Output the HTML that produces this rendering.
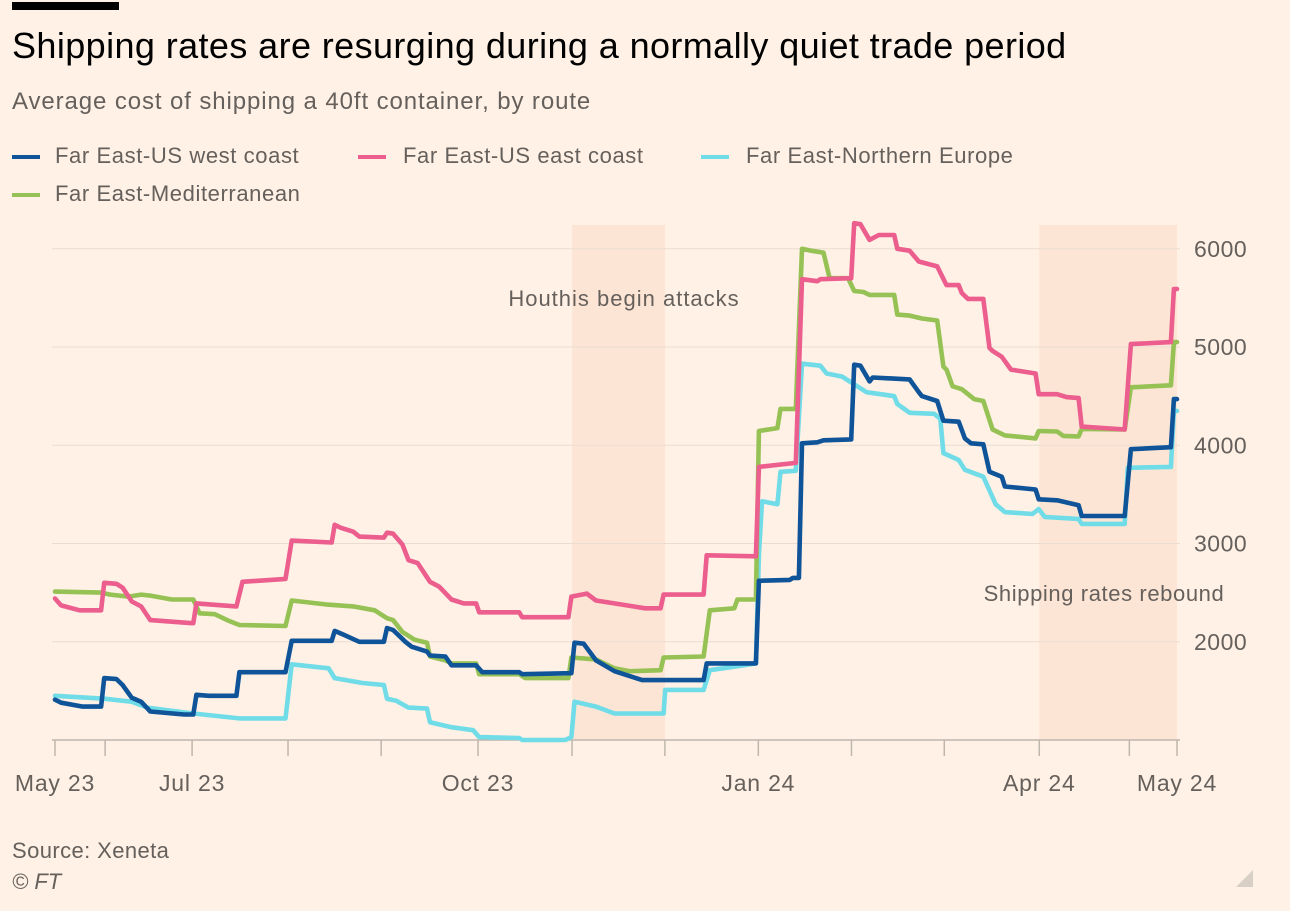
<!DOCTYPE html>
<html><head><meta charset="utf-8"><style>
html,body{margin:0;padding:0;background:#fff1e5;}
body{width:1290px;height:911px;position:relative;overflow:hidden;font-family:"Liberation Sans",sans-serif;}
.t{position:absolute;white-space:nowrap;}
</style></head><body>
<div style="position:absolute;left:12px;top:2px;width:107px;height:8px;background:#000"></div>
<div class="t" style="left:12px;top:25px;font-size:36px;color:#000;letter-spacing:0.4px">Shipping rates are resurging during a normally quiet trade period</div>
<div class="t" style="left:12px;top:88px;font-size:24px;color:#66605c;letter-spacing:0.9px">Average cost of shipping a 40ft container, by route</div>
<div>
<div class="t" style="left:12px;top:143px;font-size:22px;color:#66605c;letter-spacing:0.6px"><span style="display:inline-block;width:28px;height:4px;background:#0f5499;vertical-align:middle;margin-right:15px"></span>Far East-US west coast</div>
<div class="t" style="left:358px;top:143px;font-size:22px;color:#66605c;letter-spacing:0.6px"><span style="display:inline-block;width:28px;height:4px;background:#eb5e8d;vertical-align:middle;margin-right:17px"></span>Far East-US east coast</div>
<div class="t" style="left:701px;top:143px;font-size:22px;color:#66605c;letter-spacing:0.6px"><span style="display:inline-block;width:28px;height:4px;background:#70dce8;vertical-align:middle;margin-right:17px"></span>Far East-Northern Europe</div>
<div class="t" style="left:12px;top:181px;font-size:22px;color:#66605c;letter-spacing:0.6px"><span style="display:inline-block;width:28px;height:4px;background:#96c255;vertical-align:middle;margin-right:15px"></span>Far East-Mediterranean</div>
</div>
<svg id="chart" width="1290" height="911" style="position:absolute;left:0;top:0" xmlns="http://www.w3.org/2000/svg"></svg>
<div class="t" style="left:12px;top:838px;font-size:22px;color:#66605c;letter-spacing:0.4px">Source: Xeneta</div>
<div class="t" style="left:12px;top:869px;font-size:22px;color:#66605c;font-style:italic">© FT</div>
<div style="position:absolute;left:1236px;top:870px;width:0;height:0;border-left:17px solid transparent;border-bottom:17px solid #d8cfc6"></div>
<script>
const yTicks=[2000,3000,4000,5000,6000];
const xTickDays=[0,16.3,44.6,75.8,106.1,137.6,168.2,198.4,228.8,259.1,289.3,320.2,349.5,365];
const xLabelDays=[0,44.6,137.6,228.8,320.2,365];
const xLabels=["May 23","Jul 23","Oct 23","Jan 24","Apr 24","May 24"];
const shadeStarts=[168.2,320.2];
const shadeEnds=[198.4,365];
const westDays=[0,2,9,15,16,20,22,25,28,31,42,45,46,50,59,60,75,77,90,91,94,99,107,108,110,114,116,121,122,127,129,137,139,151,152,168,169,172,176,182,191,211,212,228,229,239,240,242,243,248,250,259,260,262,265,266,278,281,282,287,289,294,296,298,302,304,308,309,319,320,326,333,334,348,350,363,364,365];
const westVals=[1410,1380,1340,1340,1630,1620,1560,1430,1390,1290,1260,1260,1460,1450,1450,1690,1690,2010,2010,2110,2070,2000,2000,2140,2120,2000,1950,1900,1860,1850,1760,1760,1690,1690,1670,1680,1990,1980,1810,1700,1610,1610,1780,1780,2620,2630,2650,2650,4020,4030,4050,4060,4820,4810,4650,4690,4670,4540,4500,4450,4250,4240,4070,4020,4010,3730,3680,3580,3550,3450,3440,3390,3280,3280,3960,3980,4470,4470];
const eastDays=[0,2,8,15,16,20,22,25,28,31,44,45,46,59,61,75,77,90,91,93,97,99,107,108,110,113,115,118,122,125,129,133,137,138,151,152,167,168,173,176,184,192,197,198,211,212,228,229,241,243,248,249,259,260,262,265,268,273,274,278,281,287,290,294,295,297,302,304,305,308,311,319,320,326,329,333,334,348,350,363,364,365];
const eastVals=[2440,2370,2320,2320,2600,2590,2550,2410,2360,2220,2190,2190,2390,2360,2610,2640,3030,3010,3190,3160,3120,3070,3060,3110,3100,2990,2830,2800,2610,2560,2430,2390,2390,2300,2300,2250,2250,2460,2490,2420,2380,2340,2340,2480,2480,2880,2870,3780,3820,5690,5670,5690,5700,6260,6250,6090,6140,6140,6000,5980,5870,5820,5630,5630,5550,5490,5490,4990,4960,4900,4770,4730,4520,4520,4490,4480,4190,4160,5030,5050,5590,5590];
const euDays=[0,16,25,30,45,60,75,77,89,91,100,107,108,111,115,121,122,129,136,138,151,152,166,168,169,176,182,198,198.5,211,213,224,228,229,230,235,236,241,243,249,251,256,261,264,273,274,278,286,288,289,294,296,302,304,306,309,318,320,322,333,334,348,349,363,364,365];
const euVals=[1450,1420,1390,1330,1270,1220,1220,1770,1730,1630,1580,1560,1420,1400,1330,1320,1180,1130,1100,1030,1020,1000,1000,1030,1390,1340,1270,1270,1510,1510,1710,1760,1780,2880,3430,3400,3730,3740,4830,4810,4730,4700,4600,4540,4500,4420,4330,4320,4270,3920,3850,3750,3680,3540,3400,3320,3300,3350,3270,3250,3200,3200,3770,3780,4350,4350];
const medDays=[0,15,18,24,28,31,38,45,47,52,56,60,75,77,88,97,104,108,110,113,117,121,122,127,129,137,138,151,153,167,168,176,182,187,197,198,211,213,221,222,228,229,235,236,241,243,246,250,252,258,260,263,265,273,274,278,282,287,289,290,292,295,299,302,305,309,319,320,326,328,333,334,348,350,363,364,365];
const medVals=[2510,2500,2480,2460,2480,2470,2430,2430,2290,2280,2220,2170,2160,2420,2380,2360,2320,2240,2220,2100,2020,1990,1850,1810,1780,1780,1670,1670,1630,1630,1840,1820,1730,1700,1710,1840,1850,2320,2340,2430,2430,4145,4175,4370,4370,6000,5980,5960,5700,5700,5570,5560,5530,5530,5330,5320,5290,5270,4800,4770,4600,4570,4470,4450,4160,4100,4070,4145,4140,4095,4090,4165,4160,4590,4610,5050,5050];

const NS="http://www.w3.org/2000/svg";
const svg=document.getElementById('chart');
const X0=55,X1=1177,D1=365,YB=740,VMIN=1000,PX=0.09825;
function xs(d){return X0+d*(X1-X0)/D1;}
function ys(v){return YB-(v-VMIN)*PX;}
function mk(tag,attrs){const e=document.createElementNS(NS,tag);for(const k in attrs)e.setAttribute(k,attrs[k]);svg.appendChild(e);return e;}

for(let i=0;i<shadeStarts.length;i++){
  const r=mk('rect',{x:xs(shadeStarts[i]),y:225,width:xs(shadeEnds[i])-xs(shadeStarts[i]),height:YB-225,fill:'#fde3d2',opacity:0.85});
  
  
}
yTicks.forEach(v=>{
  const l=mk('line',{x1:X0-3,x2:1180,y1:ys(v),y2:ys(v),stroke:'#e9ddd2','stroke-width':1});
  
  
  const t=mk('text',{x:1194,y:ys(v)+8,'font-size':23,fill:'#66605c','font-family':'Liberation Sans, sans-serif','letter-spacing':'0.5'});
  t.textContent=v;
  
  
});
const ax=mk('line',{x1:X0-3,x2:1180,y1:YB,y2:YB,stroke:'#bfb6ad','stroke-width':1.5});


xTickDays.forEach(d=>{
  const tk=mk('line',{x1:xs(d),x2:xs(d),y1:YB,y2:YB+16,stroke:'#bfb6ad','stroke-width':1.5});
  
  
});
xLabelDays.forEach((d,i)=>{
  const t=mk('text',{x:xs(d),y:791,'font-size':23,fill:'#66605c','text-anchor':'middle','font-family':'Liberation Sans, sans-serif','letter-spacing':'0.8'});
  t.textContent=xLabels[i];
  
  
});
const a1=mk('text',{x:624,y:306,'font-size':22,fill:'#66605c','text-anchor':'middle','font-family':'Liberation Sans, sans-serif','letter-spacing':'1'});
a1.textContent='Houthis begin attacks';


const a2=mk('text',{x:1104,y:601,'font-size':22,fill:'#66605c','text-anchor':'middle','font-family':'Liberation Sans, sans-serif','letter-spacing':'0.6'});
a2.textContent='Shipping rates rebound';



function line(days,vals,color,name){
  const pts=days.map((d,i)=>xs(d).toFixed(1)+','+ys(vals[i]).toFixed(1)).join(' ');
  const p=mk('polyline',{points:pts,fill:'none',stroke:color,'stroke-width':4.6,'stroke-linejoin':'round','stroke-linecap':'round'});
  
  
}
line(euDays,euVals,'#70dce8','line-far-east-northern-europe');
line(medDays,medVals,'#96c255','line-far-east-mediterranean');
line(eastDays,eastVals,'#eb5e8d','line-far-east-us-east-coast');
line(westDays,westVals,'#0f5499','line-far-east-us-west-coast');
</script>
</body></html>
